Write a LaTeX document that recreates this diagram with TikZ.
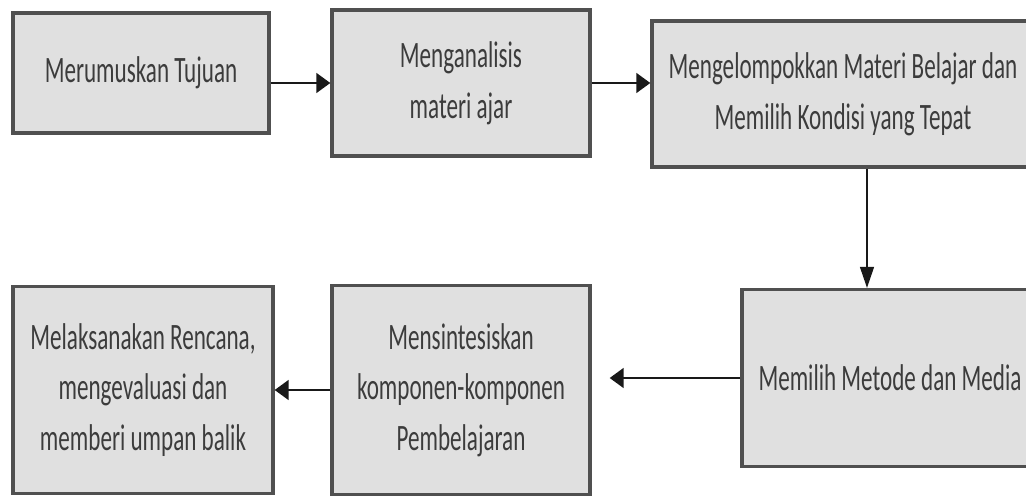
\documentclass[tikz,border=0pt]{standalone}
\usepackage{fontspec}
\setmainfont[FakeStretch=0.62]{Carlito}
\usetikzlibrary{arrows.meta}
\definecolor{boxfill}{RGB}{224,224,224}
\definecolor{boxline}{RGB}{80,80,80}
\definecolor{boxtext}{RGB}{60,60,60}
\definecolor{arrline}{RGB}{25,25,25}
\begin{document}
\begin{tikzpicture}[x=0.025cm,y=-0.025cm,
  langkah/.style={draw=boxline,line width=2.3pt,fill=boxfill,text=boxtext,
    align=center,inner sep=0pt,font=\fontsize{26.5}{36}\selectfont},
  panah/.style={draw=arrline,line width=2pt,-{Triangle[length=10pt,width=14pt]}},
  panahturun/.style={draw=arrline,line width=1pt,-{Triangle[length=15pt,width=10pt]}}]
\clip (0,0) rectangle (1026,498);
\fill[white] (0,0) rectangle (1026,498);

\node[langkah,minimum width=6.4cm,minimum height=3cm] (tujuan) at (141,73) {Merumuskan Tujuan};
\node[langkah,minimum width=6.45cm,minimum height=3.65cm] (analisis) at (461,83) {Menganalisis\\materi ajar};
\node[langkah,minimum width=9.55cm,minimum height=3.65cm] (kelompok) at (843,94) {Mengelompokkan Materi Belajar dan\\Memilih Kondisi yang Tepat};

\node[langkah,minimum width=7.4cm,minimum height=4.425cm] (metode) at (890,378) {Memilih Metode dan Media};
\node[langkah,minimum width=6.45cm,minimum height=5.225cm] (sintesis) at (461,390) {Mensintesiskan\\komponen-komponen\\Pembelajaran};
\node[langkah,minimum width=6.5cm,minimum height=5.175cm] (laksana) at (143,390) {Melaksanakan Rencana,\\mengevaluasi dan\\memberi umpan balik};

\coordinate (turun) at (867,0);
\draw[panah] (tujuan.east |- analisis.west) -- (analisis.west);
\draw[panah] (analisis.east) -- (analisis.east -| kelompok.west);
\draw[panahturun] (turun |- kelompok.south) -- (turun |- metode.north);
\draw[panah,shorten >=12.8pt] (metode.west) -- (metode.west -| sintesis.east);
\draw[panah] (sintesis.west) -- (sintesis.west -| laksana.east);
\end{tikzpicture}
\end{document}
